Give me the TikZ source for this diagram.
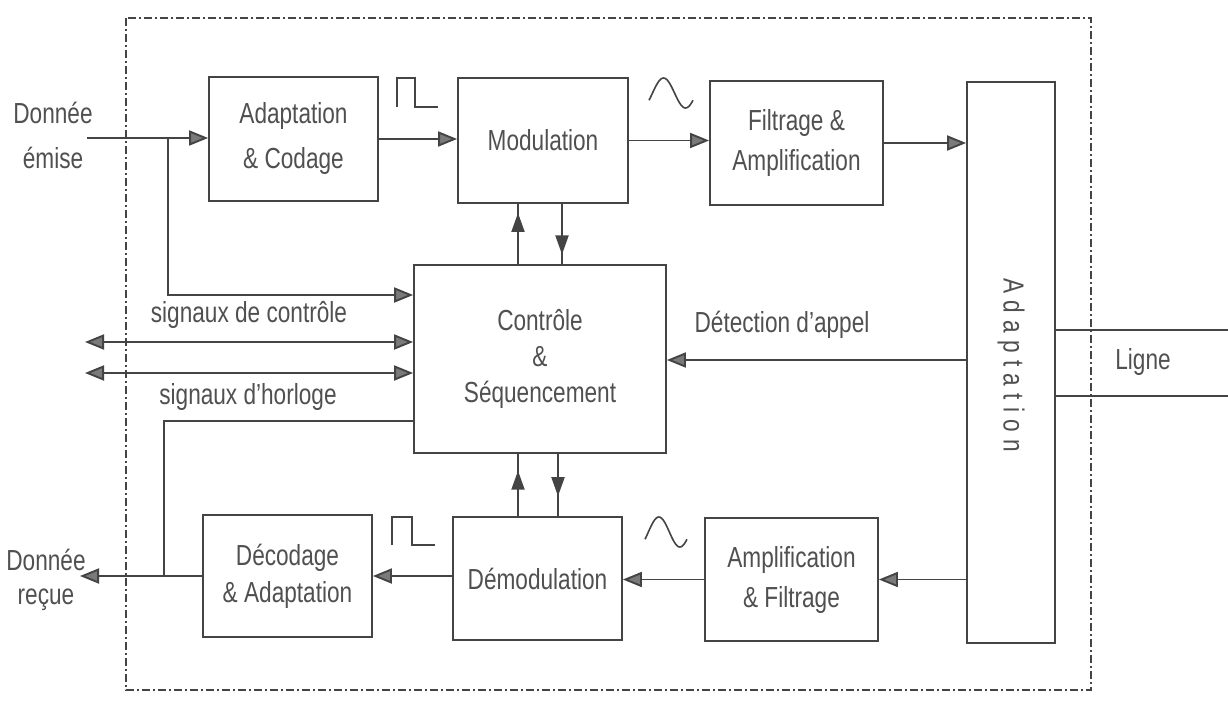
\documentclass[tikz,border=0pt]{standalone}
\usepackage{fontspec}
\setmainfont{Liberation Sans}[FakeStretch=0.78]
\usetikzlibrary{arrows.meta,decorations.markings}
\definecolor{lc}{HTML}{444444}
\definecolor{tc}{HTML}{505050}
\definecolor{ac}{HTML}{7A7A7A}
\begin{document}
\begin{tikzpicture}[x=1pt,y=-1pt,
  box/.style={draw=lc, line width=1.8pt, inner sep=0pt, align=center, text=tc},
  lbl/.style={inner sep=0pt, align=center, text=tc},
  fs/.style={font=\fontsize{29}{#1}\selectfont},
  conn/.style={draw=lc, line width=1.9pt},
  tip/.style={-{Triangle[length=19pt,width=15pt,fill=ac]}},
  dtip/.style={{Triangle[length=19pt,width=15pt,fill=ac]}-{Triangle[length=19pt,width=15pt,fill=ac]}},
  midarr/.style={postaction=decorate, decoration={markings, mark=at position #1 with {\arrow[draw=lc,fill=ac]{Triangle[length=19pt,width=13pt]}}}},
  sig/.style={draw=lc, line width=1.6pt}
]
\useasboundingbox (0,0) rectangle (1228,701);
\fill[white] (0,0) rectangle (1228,701);
% dashed frame
\draw[lc, line width=1.4pt, dash pattern=on 8pt off 3pt on 2pt off 3pt] (126,18) rectangle (1091,690);

% boxes
\node[box, fs=45, minimum width=169pt, minimum height=124pt] (adc) at (293.5,139) {Adaptation\\\& Codage};
\node[box, fs=40, minimum width=170pt, minimum height=125pt] (mod) at (543,140.5) {Modulation};
\node[box, fs=40, minimum width=173pt, minimum height=124pt] (filt) at (796.5,143) {Filtrage \&\\Amplification};
\node[box, minimum width=88pt, minimum height=561pt] (adapt) at (1011,362.5) {};
\node[lbl, fs=40, rotate=-90] (adaptlbl) at (1011,365) {\addfontfeature{LetterSpace=25}Adaptation};
\node[box, fs=36, minimum width=252pt, minimum height=188pt] (ctrl) at (540,359) {Contrôle\\\&\\Séquencement};
\node[box, fs=37, minimum width=169pt, minimum height=122pt] (dec) at (287.5,576) {Décodage\\\& Adaptation};
\node[box, fs=40, minimum width=169pt, minimum height=123pt] (demod) at (537.5,578.5) {Démodulation};
\node[box, fs=40, minimum width=173pt, minimum height=123pt] (amp) at (791.5,579.5) {Amplification\\\& Filtrage};

% labels
\node[lbl, fs=45] (lemise) at (53,135) {Donnée\\émise};
\node[lbl, fs=34] (lrecue) at (46,580) {Donnée\\reçue};
\node[lbl, fs=40] (lsc) at (249,315) {signaux de contrôle};
\node[lbl, fs=40] (lsh) at (248,397) {signaux d'horloge};
\node[lbl, fs=40] (ldet) at (782,325) {Détection d'appel};
\node[lbl, fs=40] (lligne) at (1143,362) {Ligne};

% free ends
\coordinate (in) at (87,138);
\coordinate (b1) at (168,138);
\coordinate (b2) at (168,295);
\coordinate (s1) at (85,342);
\coordinate (s2) at (85,373);
\coordinate (j1) at (164,421);
\coordinate (j2) at (164,576);
\coordinate (out) at (80,576);
\coordinate (dd) at (0,360);
\coordinate (l1) at (1228,330);
\coordinate (l2) at (1228,396);
\coordinate (v1) at (518,0);
\coordinate (v2) at (562,0);
\coordinate (v3) at (518,0);
\coordinate (v4) at (558,0);

% transmit chain
\draw[conn, tip] (in) -- (in -| adc.west);
\draw[conn, tip] (adc.east) -- (adc.east -| mod.west);
\draw[conn, tip] (mod.east) -- (mod.east -| filt.west);
\draw[conn, tip] (filt.east) -- (filt.east -| adapt.west);
\draw[conn, tip] (b1) -- (b2) -- (b2 -| ctrl.west);

% control signals
\draw[conn, dtip] (s1) -- (s1 -| ctrl.west);
\draw[conn, dtip] (s2) -- (s2 -| ctrl.west);
\draw[conn, tip] (dd -| adapt.west) -- (dd -| ctrl.east);

% modulation <-> control
\draw[conn, midarr=0.85] (ctrl.north -| v1) -- (mod.south -| v1);
\draw[conn, midarr=0.84] (mod.south -| v2) -- (ctrl.north -| v2);
% demodulation <-> control
\draw[conn, midarr=0.73] (demod.north -| v3) -- (ctrl.south -| v3);
\draw[conn, midarr=0.68] (ctrl.south -| v4) -- (demod.north -| v4);

% receive chain
\draw[conn, tip] (amp.east -| adapt.west) -- (amp.east);
\draw[conn, tip] (amp.west) -- (amp.west -| demod.east);
\draw[conn, tip] (demod.west |- j2) -- (j2 -| dec.east);
\draw[conn, tip] (dec.west |- j2) -- (out);
\draw[conn] (j1 -| ctrl.west) -- (j1) -- (j2);

% line
\draw[conn] (l1 -| adapt.east) -- (l1);
\draw[conn] (l2 -| adapt.east) -- (l2);

% signal symbols
\draw[sig] (397,107) -- (397,78) -- (415,78) -- (415,107) -- (438,107);
\draw[sig] plot[domain=-0.08:0.92, samples=40, smooth] ({649+44*(\x+0.08)}, {93-15*sin(360*\x)});
\draw[sig] (392,545) -- (392,517) -- (412,517) -- (412,545) -- (435,545);
\draw[sig] plot[domain=-0.08:0.92, samples=40, smooth] ({645+42*(\x+0.08)}, {532-15*sin(360*\x)});
\end{tikzpicture}
\end{document}
